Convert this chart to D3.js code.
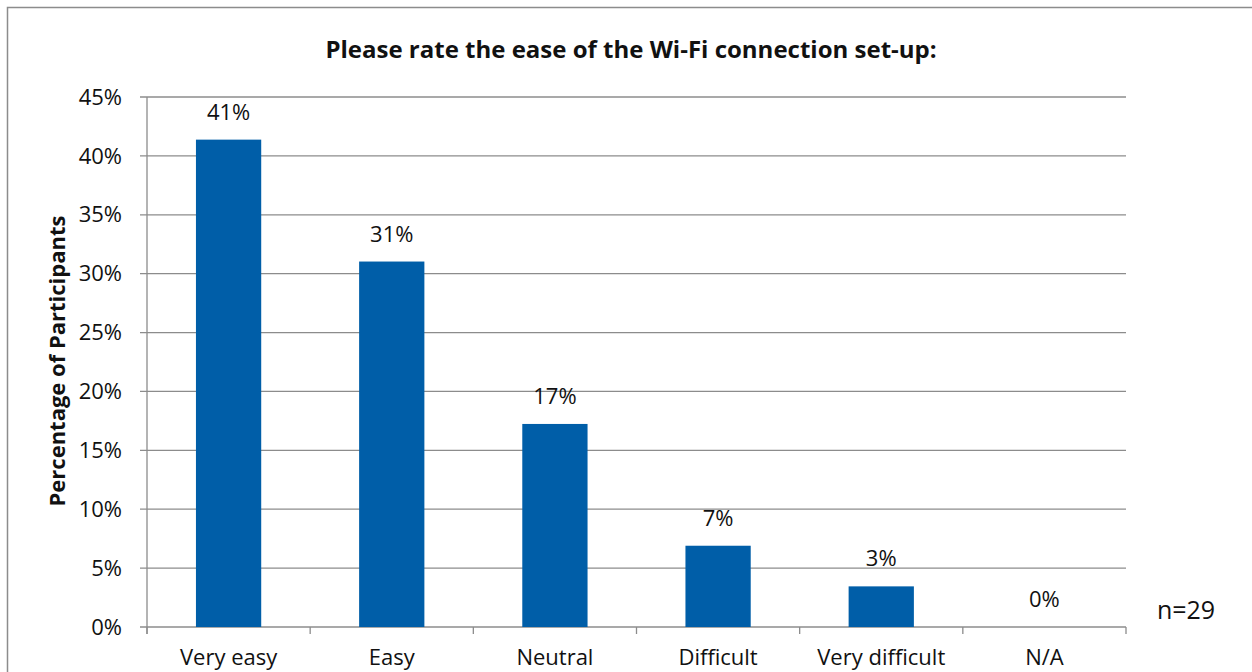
<!DOCTYPE html>
<html>
<head>
<meta charset="utf-8">
<script src="https://cdn.jsdelivr.net/npm/d3@7"></script>
<style>
  body { margin: 0; background: #fff; }
  svg { display: block; font-family: "Open Sans", "Noto Sans", sans-serif; }
</style>
</head>
<body>
<svg width="1252" height="672"></svg>
<script>
// categories and percentages (n=29)
const categories = ["Very easy", "Easy", "Neutral", "Difficult", "Very difficult", "N/A"];
const values = [41.38, 31.03, 17.24, 6.90, 3.45, 0];
const valueLabels = ["41%", "31%", "17%", "7%", "3%", "0%"];
const yTicks = [0, 5, 10, 15, 20, 25, 30, 35, 40, 45];

const svg = d3.select("svg");

const margin = { top: 97, right: 126, bottom: 45, left: 147 };
const W = 1252, H = 672;

// outer chart border (only top/left are visible in the crop)
svg.append("rect")
    .attr("x", 7.5).attr("y", 7.5)
    .attr("width", W + 20).attr("height", H + 20)
    .attr("fill", "none").attr("stroke", "#8c8c8c").attr("stroke-width", 1.5);

const x = d3.scaleBand()
    .domain(categories)
    .range([margin.left, W - margin.right])
    .paddingInner(0.6).paddingOuter(0.3);

const y = d3.scaleLinear()
    .domain([0, 45])
    .range([H - margin.bottom, margin.top]);

// gridlines + y ticks
svg.append("g")
    .selectAll("line")
    .data(yTicks)
  .enter().append("line")
    .attr("x1", margin.left - 7).attr("x2", W - margin.right)
    .attr("y1", d => y(d)).attr("y2", d => y(d))
    .attr("stroke", "#8c8c8c").attr("stroke-width", 1.3);

svg.append("g")
    .selectAll("text")
    .data(yTicks)
  .enter().append("text")
    .attr("x", margin.left - 25)
    .attr("y", d => y(d))
    .attr("dy", "0.35em")
    .attr("text-anchor", "end")
    .attr("font-size", 22)
    .attr("fill", "#111")
    .text(d => d + "%");

// y axis line
svg.append("line")
    .attr("x1", margin.left).attr("x2", margin.left)
    .attr("y1", y(45)).attr("y2", y(0) + 7)
    .attr("stroke", "#8c8c8c").attr("stroke-width", 1.3);

// category tick marks at band boundaries
const step = x.step();
const bounds = d3.range(categories.length + 1).map(i => margin.left + i * step);
svg.append("g")
    .selectAll("line")
    .data(bounds)
  .enter().append("line")
    .attr("x1", d => d).attr("x2", d => d)
    .attr("y1", y(0)).attr("y2", y(0) + 7)
    .attr("stroke", "#8c8c8c").attr("stroke-width", 1.3);

// bars
svg.append("g")
    .selectAll("rect")
    .data(values)
  .enter().append("rect")
    .attr("x", (d, i) => x(categories[i]))
    .attr("y", d => y(d))
    .attr("width", x.bandwidth())
    .attr("height", d => y(0) - y(d))
    .attr("fill", "#005ea8");

// value labels
svg.append("g")
    .selectAll("text")
    .data(values)
  .enter().append("text")
    .attr("x", (d, i) => x(categories[i]) + x.bandwidth() / 2)
    .attr("y", d => y(d) - 20)
    .attr("text-anchor", "middle")
    .attr("font-size", 22)
    .attr("fill", "#111")
    .text((d, i) => valueLabels[i]);

// category labels
svg.append("g")
    .selectAll("text")
    .data(categories)
  .enter().append("text")
    .attr("x", d => x(d) + x.bandwidth() / 2)
    .attr("y", 665)
    .attr("text-anchor", "middle")
    .attr("font-size", 22)
    .attr("fill", "#111")
    .text(d => d);

// title
svg.append("text")
    .attr("x", 631).attr("y", 58)
    .attr("text-anchor", "middle")
    .attr("font-size", 24)
    .attr("font-weight", "bold")
    .attr("fill", "#111")
    .text("Please rate the ease of the Wi-Fi connection set-up:");

// y axis title
svg.append("text")
    .attr("transform", "translate(65,361) rotate(-90)")
    .attr("text-anchor", "middle")
    .attr("font-size", 22)
    .attr("font-weight", "bold")
    .attr("fill", "#111")
    .text("Percentage of Participants");

// sample size
svg.append("text")
    .attr("x", 1186).attr("y", 619)
    .attr("text-anchor", "middle")
    .attr("font-size", 25)
    .attr("fill", "#111")
    .text("n=29");
</script>
</body>
</html>
